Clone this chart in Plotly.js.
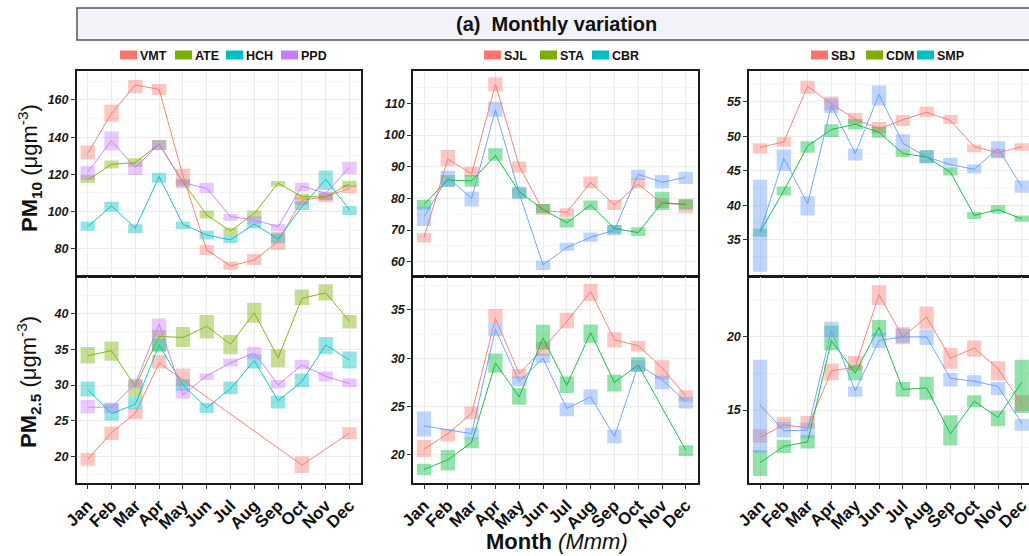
<!DOCTYPE html>
<html>
<head>
<meta charset="utf-8">
<script src="https://cdn.plot.ly/plotly-3.0.1.min.js"></script>
<style>
html,body{margin:0;padding:0;overflow:hidden;background:#fff;}
#chart{width:1045px;height:556px;}
</style>
</head>
<body>
<div id="chart"></div>
<script>
// ---------------- DATA ----------------
const months = ['Jan','Feb','Mar','Apr','May','Jun','Jul','Aug','Sep','Oct','Nov','Dec'];

// Column 1 sites
const vmt_pm10_mean = [131.3,152.8,168.1,165.7,119.3,79.3,70.7,73.9,84,106,108,112.5];
const vmt_pm10_lo   = [128,148.3,163.6,162.7,115.5,76.6,68.6,71.2,79.3,103.5,105,109.8];
const vmt_pm10_hi   = [135.5,157.5,170.8,168.6,123,82,73,77.2,89,107.5,110,114.3];
const ate_pm10_mean = [117,125.4,126.3,136.3,116,98.1,89.5,99,115.2,108,107.8,115];
const ate_pm10_lo   = [115.3,123.2,124.1,133.1,113.5,96.3,87.4,96,113.4,106.5,106,113];
const ate_pm10_hi   = [119.7,127.4,128.6,138.5,117.5,100.5,91.3,100.5,116.4,109.5,109.5,116.5];
const hch_pm10_mean = [91.9,103,91,118.8,93.1,87.4,84.7,93.3,85.1,102.6,117.3,100.8];
const hch_pm10_lo   = [89.7,99.9,88.3,115.5,90.4,85,82.9,91,82.9,100.8,111.6,98.1];
const hch_pm10_hi   = [94.6,105.3,93.1,120.9,94.6,89.7,87.4,95.5,88.3,105.5,122,103];
const ppd_pm10_mean = [121.4,138,123.6,136.3,115.5,112.5,97.2,95.5,91.8,113.7,109.8,123.8];
const ppd_pm10_lo   = [117,133,119.7,133.1,112.5,110,95,93.5,89.2,110.7,106.2,120.2];
const ppd_pm10_hi   = [124.5,143,126.3,138.5,117,115.5,98.7,97.5,93.3,115.5,110.7,126.8];

const vmt_pm25_mean = [19.6,23.35,26.05,33.1,30.7,null,null,null,null,18.8,null,23.3];
const vmt_pm25_lo   = [18.7,22.3,25.2,32.3,29.8,null,null,null,null,17.7,null,22.4];
const vmt_pm25_hi   = [20.5,24.2,26.7,34.2,32.3,null,null,null,null,20,null,24.1];
const ate_pm25_mean = [34.1,34.8,29.8,36.8,36.65,38.2,35.7,40.1,33.8,42.1,42.9,38.9];
const ate_pm25_lo   = [33,33.4,28.4,34.7,35.3,36.5,34.3,38.7,32.5,41.2,41.8,37.9];
const ate_pm25_hi   = [35.3,36.1,30.7,37.7,38.1,39.8,37,41.5,35,43.35,44.1,39.8];
const hch_pm25_mean = [29.4,26,27.3,35.6,30,26.8,29.5,33.4,27.8,30.5,35.6,33.5];
const hch_pm25_lo   = [28.4,25,26.6,34.7,29.2,26.1,28.7,32.3,26.7,29.7,34.3,32.3];
const hch_pm25_hi   = [30.5,27.4,28.4,36.5,30.8,27.5,30.5,34.3,28.5,31.6,36.7,34.7];
const ppd_pm25_mean = [26.9,26.9,30.2,38.5,28.6,31.3,33.1,34.5,30,32.8,31.2,30.2];
const ppd_pm25_lo   = [26,26.05,29.5,36.7,28.1,30.7,32.6,33.6,29.5,32.2,30.5,29.7];
const ppd_pm25_hi   = [27.9,27.5,30.9,39.3,29.5,31.6,33.7,35.3,30.7,33.5,31.9,30.9];

// Column 2 sites
const sjl_pm10_mean = [67.7,92.4,87.7,116,90.2,76.1,75.6,85,77.9,84.5,78.4,78.1];
const sjl_pm10_lo   = [66.1,90.2,86.9,113.7,88.1,74.8,74,83.2,76.3,83.2,77,75.3];
const sjl_pm10_hi   = [69,95.3,90,118.2,91.6,78.2,76.9,86.9,79.5,86.3,80,79.7];
const sta_pm10_mean = [78.1,85.8,85.5,93.5,82.1,76.5,72.3,77.9,70.5,69.2,78.6,78.1];
const sta_pm10_lo   = [76.5,83.7,83.7,91.9,80,75.3,70.8,76.3,68.8,68.1,76.3,76.5];
const sta_pm10_hi   = [79.5,87.4,87.4,95.8,83.7,78.2,73.7,79.3,71.6,70.9,82.1,79.7];
const cbr_pm10_mean = [74.2,86.6,80,107.9,81.6,59,64.5,67.7,70,87.6,85.1,86.6];
const cbr_pm10_lo   = [71.3,83.7,77.4,105.8,79.7,57.4,63.5,66.3,68.4,85.8,83.2,84.5];
const cbr_pm10_hi   = [77.4,88.7,82.1,110.5,83.2,60.3,66,69.2,71.6,89,87.4,88.4];

const sjl_pm25_mean = [20.6,22.2,24.3,34.1,28.4,31,33.8,36.9,31.9,31.3,29,26.1];
const sjl_pm25_lo   = [19.8,21.4,23.7,33.7,27.9,30.2,33.1,35.9,31.1,30.7,27.8,25.5];
const sjl_pm25_hi   = [21.55,22.7,25,35.1,28.9,31.7,34.7,37.7,32.7,31.8,29.8,26.7];
const sta_pm25_mean = [18.5,19.5,21.3,29.5,26,32.1,27.2,32.65,27.5,29.3,null,20.5];
const sta_pm25_lo   = [17.9,18.4,20.7,28.5,25.2,30.9,26.4,31.6,26.55,28.6,null,19.9];
const sta_pm25_hi   = [19.1,20.5,21.8,30.5,26.9,33.45,28.1,33.5,28.3,30.1,null,21];
const cbr_pm25_mean = [23,null,22.2,33,27.6,30,24.8,26,21.9,29.3,27.8,25.5];
const cbr_pm25_lo   = [21.9,null,21.7,32.3,27.1,29.5,24,25.2,21.2,28.6,26.8,24.8];
const cbr_pm25_hi   = [24.5,null,22.8,33.7,28.1,30.5,25.4,26.8,22.6,29.8,28.2,26];

// Column 3 sites
const sbj_pm10_mean = [48.4,49.2,57.3,54.7,52.5,51.1,52.4,53.5,52.3,48.5,47.6,48.5];
const sbj_pm10_lo   = [47.5,48.5,56.2,53.8,51.85,50.4,51.5,52.8,51.8,47.7,46.9,47.9];
const sbj_pm10_hi   = [49,49.9,58.1,55.8,53.4,52.1,53.1,54.3,53.1,48.8,48.2,49];
const cdm_pm10_mean = [36.1,42.1,48.6,51,51.75,50.6,47.5,47,44.8,38.5,39.35,38];
const cdm_pm10_lo   = [35.4,41.4,47.6,49.9,51,49.8,47,46.1,44.3,38,38.8,37.6];
const cdm_pm10_hi   = [36.6,42.7,49.3,51.75,52.5,51.4,48.1,48,45.5,39,40,38.5];
const smp_pm10_mean = [36.1,46.8,40.2,54.5,47.5,56.1,49,47,45.9,45.2,48.2,42.7];
const smp_pm10_lo   = [30.3,45,38.5,53.4,46.5,54.5,48,46.1,45.6,44.6,46.8,41.8];
const smp_pm10_hi   = [43.7,48.1,41.3,55.5,48.2,57.4,50.3,47.9,46.9,45.9,49.3,43.6];

const sbj_pm25_mean = [13.15,14,13.8,17.65,17.9,22.8,19.95,21.3,18.5,19.2,17.8,15.4];
const sbj_pm25_lo   = [12.8,13.75,13.75,17,17.7,22.1,19.45,20.5,17.8,18.6,17,14.95];
const sbj_pm25_hi   = [13.7,14.55,14.6,18.15,18.65,23.45,20.6,22,19.2,19.7,18.3,16];
const cdm_pm25_mean = [11.45,12.55,12.85,19.7,17.5,20.6,16.4,16.5,13.4,15.6,14.5,16.9];
const cdm_pm25_lo   = [10.55,12.1,12.4,19.05,17,20,15.9,15.7,12.6,15.2,13.9,14.8];
const cdm_pm25_hi   = [12.3,13,13.3,20.7,18.05,21.1,16.9,17.25,14.65,16,14.95,18.4];
const smp_pm25_mean = [15.35,13.6,13.65,20.4,16.3,19.7,19.95,19.95,17.15,16.95,16.6,14.1];
const smp_pm25_lo   = [12.1,13.15,13.1,19.95,15.9,19.2,19.55,19.4,16.6,16.6,16,13.6];
const smp_pm25_hi   = [18.4,14.2,14.15,20.97,16.6,20.2,20.5,20.45,17.5,17.35,16.9,14.4];

const legend1 = ['VMT','ATE','HCH','PPD'];
const legend2 = ['SJL','STA','CBR'];
const legend3 = ['SBJ','CDM','SMP'];

// y tick values per panel
const ticks_p1_pm10 = [80,100,120,140,160];
const ticks_p2_pm10 = [60,70,80,90,100,110];
const ticks_p3_pm10 = [35,40,45,50,55];
const ticks_p1_pm25 = [20,25,30,35,40];
const ticks_p2_pm25 = [20,25,30,35];
const ticks_p3_pm25 = [15,20];

// ---------------- STYLE ----------------
const W = 1045, H = 556;
const px = x => x / W;
const py = y => 1 - y / H;
const FONT = 'Liberation Sans, Arial, Helvetica, sans-serif';
const pal4 = ['#F8766D','#7CAE00','#00BFC4','#C77CFF'];
const pal3 = ['#F8766D','#00BA38','#619CFF'];

const panels = [
  {ax:'', series:[[vmt_pm10_mean,vmt_pm10_lo,vmt_pm10_hi],[ate_pm10_mean,ate_pm10_lo,ate_pm10_hi],[hch_pm10_mean,hch_pm10_lo,hch_pm10_hi],[ppd_pm10_mean,ppd_pm10_lo,ppd_pm10_hi]], names:legend1, colors:pal4},
  {ax:'2', series:[[sjl_pm10_mean,sjl_pm10_lo,sjl_pm10_hi],[sta_pm10_mean,sta_pm10_lo,sta_pm10_hi],[cbr_pm10_mean,cbr_pm10_lo,cbr_pm10_hi]], names:legend2, colors:pal3},
  {ax:'3', series:[[sbj_pm10_mean,sbj_pm10_lo,sbj_pm10_hi],[cdm_pm10_mean,cdm_pm10_lo,cdm_pm10_hi],[smp_pm10_mean,smp_pm10_lo,smp_pm10_hi]], names:legend3, colors:pal3},
  {ax:'4', series:[[vmt_pm25_mean,vmt_pm25_lo,vmt_pm25_hi],[ate_pm25_mean,ate_pm25_lo,ate_pm25_hi],[hch_pm25_mean,hch_pm25_lo,hch_pm25_hi],[ppd_pm25_mean,ppd_pm25_lo,ppd_pm25_hi]], names:legend1, colors:pal4},
  {ax:'5', series:[[sjl_pm25_mean,sjl_pm25_lo,sjl_pm25_hi],[sta_pm25_mean,sta_pm25_lo,sta_pm25_hi],[cbr_pm25_mean,cbr_pm25_lo,cbr_pm25_hi]], names:legend2, colors:pal3},
  {ax:'6', series:[[sbj_pm25_mean,sbj_pm25_lo,sbj_pm25_hi],[cdm_pm25_mean,cdm_pm25_lo,cdm_pm25_hi],[smp_pm25_mean,smp_pm25_lo,smp_pm25_hi]], names:legend3, colors:pal3}
];

const boxTraces = [], lineTraces = [];
panels.forEach(p => {
  const xa = 'x' + p.ax, ya = 'y' + p.ax;
  p.series.forEach((s, i) => {
    const [mean, lo, hi] = s;
    const col = p.colors[i];
    boxTraces.push({
      type:'bar', x: months, base: lo,
      y: hi.map((h, k) => (h == null || lo[k] == null) ? null : h - lo[k]),
      width: 0.6, xaxis: xa, yaxis: ya, showlegend:false, name: p.names[i],
      marker:{color: col, opacity: 0.42, line:{width:0}}, hoverinfo:'skip'
    });
    lineTraces.push({
      type:'scatter', mode:'lines', x: months, y: mean, connectgaps:true,
      xaxis: xa, yaxis: ya, showlegend:false, name: p.names[i],
      line:{color: col, width: 0.9}
    });
  });
});

// domains (pixels)
const colX = [[77,361.4],[413.3,697.7],[749.3,1033.7]];
const rowY = [[71,276],[277,483]];
const yRanges = [[65.3,175.6],[55.5,120.2],[29.7,59.5],[16.3,45.1],[17.1,38.4],[10.07,24.0]];
const yTicks = [ticks_p1_pm10,ticks_p2_pm10,ticks_p3_pm10,ticks_p1_pm25,ticks_p2_pm25,ticks_p3_pm25];
const yMinor = [10,5,2.5,2.5,2.5,2.5];

const layout = {
  width: W, height: H,
  margin:{l:0,r:0,t:0,b:0},
  paper_bgcolor:'#fff', plot_bgcolor:'#fff',
  barmode:'overlay',
  showlegend:false,
  font:{family: FONT, color:'#1a1a1a'},
  shapes:[], annotations:[]
};

for (let i = 0; i < 6; i++) {
  const c = i % 3, r = Math.floor(i / 3);
  const n = i === 0 ? '' : String(i + 1);
  const axCommon = {
    showline:true, mirror:true, linecolor:'#1a1a1a', linewidth:2,
    showgrid:true, gridcolor:'#ebebeb', gridwidth:1, zeroline:false,
    ticks:'outside', ticklen:4, tickwidth:1, tickcolor:'#333'
  };
  layout['xaxis' + n] = Object.assign({}, axCommon, {
    domain:[px(colX[c][0]), px(colX[c][1])],
    anchor:'y' + n, type:'category', categoryorder:'array', categoryarray: months,
    range:[-0.45, 11.5],
    showticklabels: r === 1, tickangle:-45,
    tickfont:{family:FONT, size:17, weight:'bold', color:'#111'}
  });
  layout['yaxis' + n] = Object.assign({}, axCommon, {
    domain:[py(rowY[r][1]), py(rowY[r][0])],
    anchor:'x' + n, range: yRanges[i],
    tickmode:'array', tickvals: yTicks[i], ticktext: yTicks[i].map(String),
    minor:{showgrid:true, gridcolor:'#f5f5f5', dtick: yMinor[i], tick0:0, ticks:''},
    tickfont:{family:FONT, size:12.5, weight:'bold', style:'italic', color:'#1a1a1a'}
  });
}

// Title strip
layout.shapes.push({type:'rect', xref:'paper', yref:'paper', x0:px(77), x1:px(1045), y0:py(40), y1:py(8),
  fillcolor:'#f2f2f9', line:{color:'#555', width:1.5}, layer:'below'});
layout.annotations.push({xref:'paper', yref:'paper', x:px(556), y:py(24), xanchor:'center', yanchor:'middle',
  text:'<b>(a)</b>  <b>Monthly variation</b>', showarrow:false, font:{family:FONT, size:20, color:'#111'}});

// Legends (swatch + label)
const legendPos = [
  {names:legend1, colors:pal4, x:[120,175,226,281]},
  {names:legend2, colors:pal4, x:[484,540,592]},
  {names:legend3, colors:pal4, x:[811,866,917]}
];
legendPos.forEach(L => {
  L.names.forEach((nm, i) => {
    const x0 = L.x[i];
    layout.shapes.push({type:'rect', xref:'paper', yref:'paper', x0:px(x0), x1:px(x0+17), y0:py(59.5), y1:py(50.5),
      fillcolor:L.colors[i], line:{width:0}});
    layout.annotations.push({xref:'paper', yref:'paper', x:px(x0+18), y:py(55.5), xanchor:'left', yanchor:'middle',
      text:'<b>'+nm+'</b>', showarrow:false, font:{family:FONT, size:12.5, color:'#111'}});
  });
});

// Axis titles
layout.annotations.push({xref:'paper', yref:'paper', x:px(29), y:py(168), xanchor:'center', yanchor:'middle', textangle:-90,
  text:'<b>PM<sub>10</sub></b> (μgm<sup>-3</sup>)', showarrow:false, font:{family:FONT, size:22, color:'#111'}});
layout.annotations.push({xref:'paper', yref:'paper', x:px(29), y:py(382), xanchor:'center', yanchor:'middle', textangle:-90,
  text:'<b>PM<sub>2.5</sub></b> (μgm<sup>-3</sup>)', showarrow:false, font:{family:FONT, size:22, color:'#111'}});
layout.annotations.push({xref:'paper', yref:'paper', x:px(557), y:py(541), xanchor:'center', yanchor:'middle',
  text:'<b>Month</b> <i>(Mmm)</i>', showarrow:false, font:{family:FONT, size:22, color:'#111'}});

Plotly.newPlot('chart', boxTraces.concat(lineTraces), layout, {staticPlot:true, displayModeBar:false});
</script>
</body>
</html>
